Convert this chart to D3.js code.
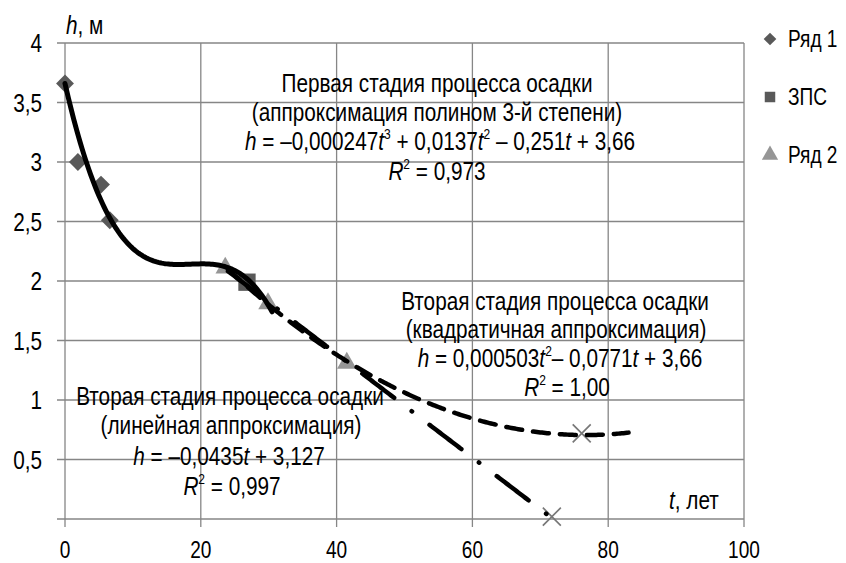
<!DOCTYPE html>
<html>
<head>
<meta charset="utf-8">
<script src="https://cdn.jsdelivr.net/npm/d3@7"></script>
<style>
  body { margin: 0; background: #fff; }
  svg text { font-family: "Liberation Sans Narrow", "Arial Narrow", "Liberation Sans", sans-serif; fill: #000; }
</style>
</head>
<body>
<div id="chart"></div>
<script>
// axis ticks
var tTicks = [0, 20, 40, 60, 80, 100];
var hTicks = [0, 0.5, 1, 1.5, 2, 2.5, 3, 3.5, 4];

// measured points
var row1T = [0, 1.9, 5.3, 6.6];
var row1H = [3.66, 3.0, 2.81, 2.51];
var zpsT = [26.8];
var zpsH = [1.99];
var row2T = [23.6, 29.9, 41.5];
var row2H = [2.11, 1.81, 1.31];
var forecastT = [71.7, 76.1];
var forecastH = [0.02, 0.72];

// trendline coefficients (t^0, t^1, ...) as printed on the chart
var cubicCoef = [3.66, -0.251, 0.0137, -0.000247];
var quadCoef = [3.66, -0.0771, 0.000503];
var linCoef = [3.127, -0.0435];
var cubicSpan = [0, 30.5];
var quadSpan = [24, 83];
var linSpan = [24, 72.2];

var legendNames = ["Ряд 1", "ЗПС", "Ряд 2"];

// annotation text (_x_ = italic, ^x^ = superscript)
var note1 = ["Первая стадия процесса осадки",
             "(аппроксимация полином 3-й степени)",
             "_h_ = –0,000247_t_^3^ + 0,0137_t_^2^  – 0,251_t_ + 3,66",
             "_R_^2^ = 0,973"];
var note2 = ["Вторая стадия процесса осадки",
             "(квадратичная аппроксимация)",
             "_h_ = 0,000503_t_^2^– 0,0771_t_ + 3,66",
             "_R_^2^ = 1,00"];
var note3 = ["Вторая стадия процесса осадки",
             "(линейная аппроксимация)",
             "_h_ = –0,0435_t_ + 3,127",
             "_R_^2^ = 0,997"];

var svgWidth = 846, svgHeight = 563;
var margin = {top: 43, right: 102, bottom: 44, left: 65};
var chartWidth = svgWidth - margin.left - margin.right;
var chartHeight = svgHeight - margin.top - margin.bottom;
var squeeze = 0.83; // narrow face look
var fs = 25;

var svg = d3.select("#chart").append("svg")
  .attr("width", svgWidth)
  .attr("height", svgHeight);

var chartGroup = svg.append("g")
  .attr("transform", `translate(${margin.left}, ${margin.top})`);

var x = d3.scaleLinear().domain([0, 100]).range([0, chartWidth]);
var y = d3.scaleLinear().domain([0, 4]).range([chartHeight, 0]);

var comma = d => String(d).replace(".", ",");
var gridColor = "#868686";

// grid
chartGroup.selectAll(".hgrid").data(hTicks).enter().append("line")
  .attr("x1", -8).attr("x2", chartWidth)
  .attr("y1", d => y(d)).attr("y2", d => y(d))
  .attr("stroke", gridColor).attr("stroke-width", 1.3);
chartGroup.selectAll(".vgrid").data(tTicks).enter().append("line")
  .attr("x1", d => x(d)).attr("x2", d => x(d))
  .attr("y1", 0).attr("y2", chartHeight + 8)
  .attr("stroke", gridColor).attr("stroke-width", 1.3);

// tick labels
chartGroup.selectAll(".ylab").data(hTicks.filter(d => d > 0)).enter().append("text")
  .attr("transform", d => `translate(-23, ${y(d) + 9}) scale(${squeeze}, 1)`)
  .attr("text-anchor", "end")
  .style("font-size", fs + "px")
  .text(comma);
chartGroup.selectAll(".xlab").data(tTicks).enter().append("text")
  .attr("transform", d => `translate(${x(d)}, ${chartHeight + 39}) scale(${squeeze}, 1)`)
  .attr("text-anchor", "middle")
  .style("font-size", "23px")
  .text(comma);

// rich text helper
function richLine(g, str, cx, by, size, anchor) {
  var t = g.append("text")
    .attr("transform", `translate(${cx}, ${by}) scale(${squeeze}, 1)`)
    .attr("text-anchor", anchor || "middle").style("font-size", size + "px");
  var parts = str.split(/(_[^_]+_|\^[^^]+\^)/).filter(s => s.length);
  var raised = false;
  parts.forEach(function(p) {
    var sp = t.append("tspan");
    if (p[0] === "_") {
      sp.style("font-style", "italic").text(p.slice(1, -1));
      if (raised) { sp.attr("dy", 11); raised = false; }
    } else if (p[0] === "^") {
      sp.style("font-size", (size * 0.58) + "px").attr("dy", -11).text(p.slice(1, -1));
      raised = true;
    } else {
      sp.text(p);
      if (raised) { sp.attr("dy", 11); raised = false; }
    }
  });
  return t;
}

function note(lines, cxs, baselines) {
  lines.forEach((s, i) => richLine(svg, s, cxs[i], baselines[i], fs));
}
note(note1, [437, 437, 440, 437], [92, 121, 150, 180]);
note(note2, [555, 556, 560, 567], [310, 338, 367, 396]);
note(note3, [230, 231, 229, 232], [405, 434, 465, 495]);

// axis titles
richLine(svg, "_h_, м", 66, 34, fs, "start");
richLine(svg, "_t_, лет", 669, 509, fs, "start");

// trendlines
function poly(c) { return t => c.reduce((s, k, i) => s + k * Math.pow(t, i), 0); }
var line = d3.line().x(d => x(d[0])).y(d => y(d[1]));
function curvePts(c, span) {
  var f = poly(c);
  return d3.range(span[0], span[1], 0.25).concat([span[1]]).map(t => [t, f(t)]);
}

// markers
chartGroup.selectAll(".row1").data(row1T).enter().append("path")
  .attr("d", d3.symbol().type(d3.symbolSquare).size(160))
  .attr("transform", (d, i) => `translate(${x(d)},${y(row1H[i])}) rotate(45)`)
  .attr("fill", "#595959");
chartGroup.selectAll(".zps").data(zpsT).enter().append("path")
  .attr("d", d3.symbol().type(d3.symbolSquare).size(300))
  .attr("transform", (d, i) => `translate(${x(d)},${y(zpsH[i])})`)
  .attr("fill", "#595959");
chartGroup.selectAll(".row2").data(row2T).enter().append("path")
  .attr("d", d3.symbol().type(d3.symbolTriangle).size(165))
  .attr("transform", (d, i) => `translate(${x(d)},${y(row2H[i])})`)
  .attr("fill", "#969696");
chartGroup.selectAll(".fcx").data(forecastT).enter().append("g")
  .attr("transform", (d, i) => `translate(${x(d)},${y(forecastH[i])})`)
  .each(function() {
    var g = d3.select(this);
    g.append("line").attr("x1", -9).attr("y1", -9).attr("x2", 9).attr("y2", 9);
    g.append("line").attr("x1", -9).attr("y1", 9).attr("x2", 9).attr("y2", -9);
  })
  .selectAll("line").attr("stroke", "#777").attr("stroke-width", 1.6);

chartGroup.append("path").datum(curvePts(cubicCoef, cubicSpan))
  .attr("d", line).attr("fill", "none").attr("stroke", "#000")
  .attr("stroke-width", 5).attr("stroke-linecap", "round");
chartGroup.append("path").datum(curvePts(quadCoef, quadSpan))
  .attr("d", line).attr("fill", "none").attr("stroke", "#000")
  .attr("stroke-width", 4.5).attr("stroke-linecap", "round")
  .attr("stroke-dasharray", "16,11");
chartGroup.append("path").datum(curvePts(linCoef, linSpan))
  .attr("d", line).attr("fill", "none").attr("stroke", "#000")
  .attr("stroke-width", 4.5).attr("stroke-linecap", "round")
  .attr("stroke-dasharray", "40,22,0.5,22");

// legend
var legend = svg.append("g").attr("transform", "translate(770, 39)");
var legItems = legend.selectAll("g").data(legendNames).enter().append("g")
  .attr("transform", (d, i) => `translate(0, ${i * 58})`);
legItems.append("path")
  .attr("d", (d, i) => d3.symbol().type([d3.symbolSquare, d3.symbolSquare, d3.symbolTriangle][i]).size([80, 110, 115][i])())
  .attr("transform", (d, i) => i === 0 ? "rotate(45)" : null)
  .attr("fill", (d, i) => i === 2 ? "#969696" : "#595959");
legItems.append("text")
  .attr("transform", `translate(18, 8) scale(${squeeze}, 1)`)
  .style("font-size", "23px")
  .text(d => d);
</script>
</body>
</html>
